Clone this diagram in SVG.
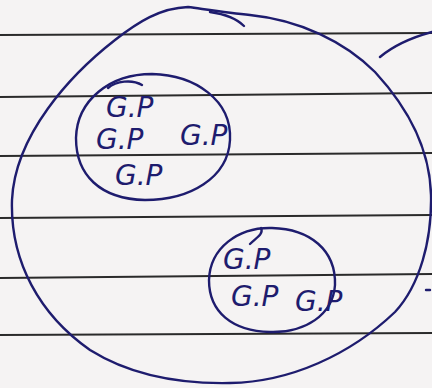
<svg xmlns="http://www.w3.org/2000/svg" width="432" height="388" viewBox="0 0 432 388">
<style>
.rule{stroke:#2a2a2a;stroke-width:1.8;fill:none}
.ink{stroke:#1e1c6e;stroke-width:2.4;fill:none;stroke-linecap:round;stroke-linejoin:round}
.lbl{font-family:"DejaVu Sans","Liberation Sans",sans-serif;font-style:italic;fill:#1e1c6e;font-size:28px}
</style>
<rect width="432" height="388" fill="#f5f3f3"/>
<g id="rules">
<path class="rule" d="M0 35 L432 33"/>
<path class="rule" d="M0 97 L432 93"/>
<path class="rule" d="M0 156 L432 153"/>
<path class="rule" d="M0 218 L432 215"/>
<path class="rule" d="M0 278 L432 274"/>
<path class="rule" d="M0 335 L432 333"/>
</g>
<g id="outer">
<path class="ink" d="M188 7 C160 8 138 22 115 40 C70 75 15 135 12 200 C10 262 40 315 90 350 C130 375 180 384 230 383 C290 382 350 355 395 312 C420 285 432 240 431 195 C430 150 410 110 375 72 C345 42 300 20 250 15 C230 13 210 10 188 7 Z"/>
<path class="ink" d="M210 12 C224 14 237 19 244 26"/>
</g>
<g id="group1">
<path class="ink" d="M152 74 C195 75 232 100 230 140 C228 178 190 200 145 200 C100 199 76 175 76 138 C77 100 110 74 152 74 Z"/>
<path class="ink" d="M108 88 C116 81 132 79 142 85"/>
<text class="lbl" x="106" y="117">G.P</text>
<text class="lbl" x="96" y="149">G.P</text>
<text class="lbl" x="180" y="145" font-size="23">G.P</text>
<text class="lbl" x="115" y="185">G.P</text>
</g>
<g id="group2">
<path class="ink" d="M272 228 C310 229 336 250 335 285 C333 315 305 333 270 332 C232 331 209 312 209 280 C210 248 238 227 272 228 Z"/>
<path class="ink" d="M250 244 C256 238 264 234 261 228"/>
<text class="lbl" x="223" y="269">G.P</text>
<text class="lbl" x="231" y="306">G.P</text>
<text class="lbl" x="295" y="311" font-size="20">G.P</text>
</g>
<g id="connectors">
<path class="ink" d="M380 57 C392 47 410 38 432 32"/>
<path class="ink" d="M426 290 L430 290"/>
</g>
</svg>
